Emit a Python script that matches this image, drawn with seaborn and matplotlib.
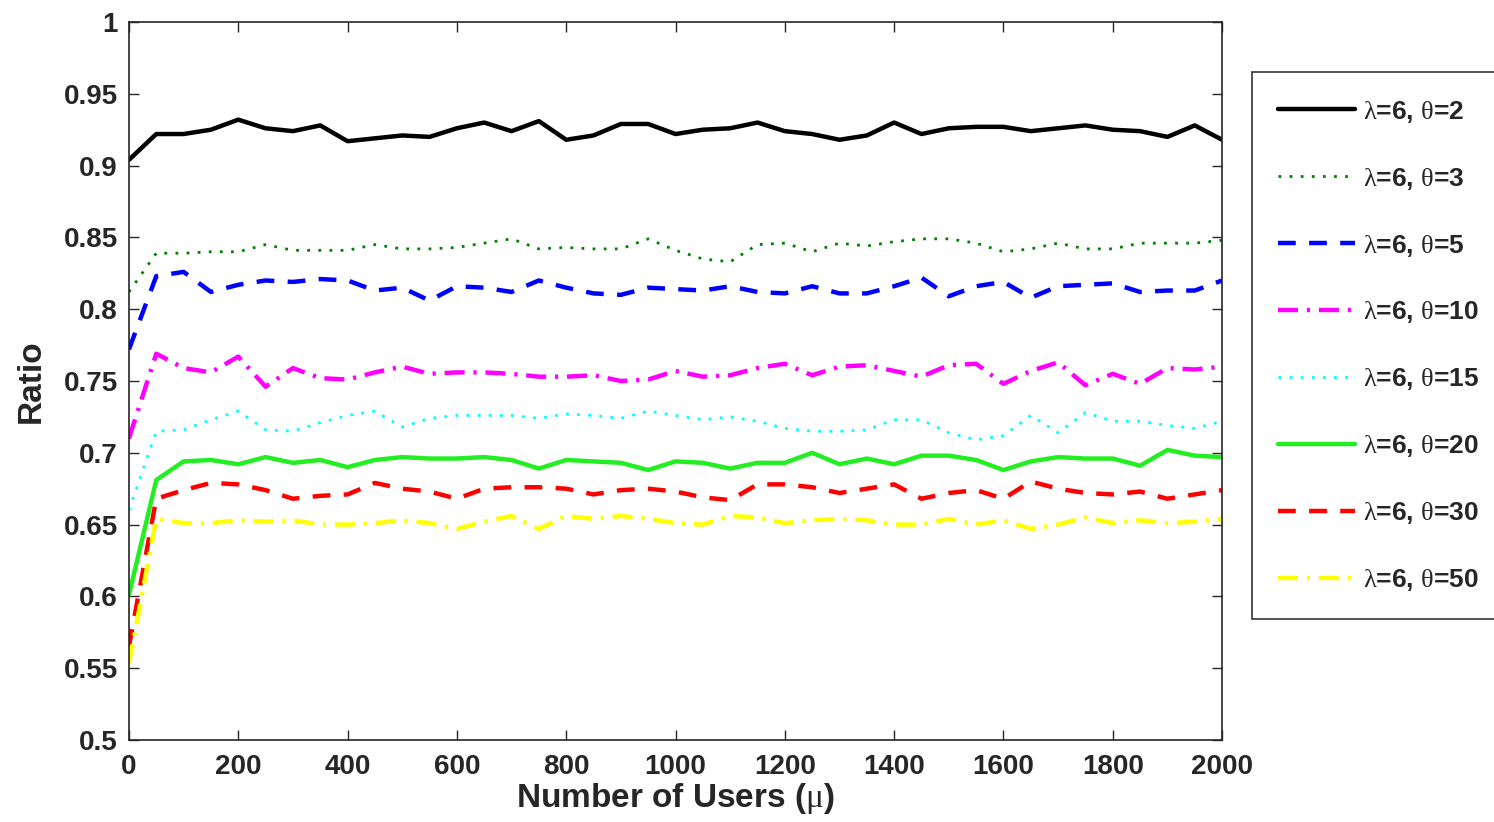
import numpy as np
import pandas as pd
import matplotlib
matplotlib.use("Agg")
import matplotlib.pyplot as plt
import seaborn as sns

# x values: number of users, every 50
users = list(range(0, 2001, 50))

ratio_t2 = [0.904, 0.922, 0.922, 0.925, 0.932, 0.926, 0.924, 0.928, 0.917, 0.919,
            0.921, 0.920, 0.926, 0.930, 0.924, 0.931, 0.918, 0.921, 0.929, 0.929,
            0.922, 0.925, 0.926, 0.930, 0.924, 0.922, 0.918, 0.921, 0.930, 0.922,
            0.926, 0.927, 0.927, 0.924, 0.926, 0.928, 0.925, 0.924, 0.920, 0.928, 0.918]
ratio_t3 = [0.812, 0.839, 0.839, 0.840, 0.840, 0.845, 0.841, 0.841, 0.841, 0.845,
            0.842, 0.842, 0.843, 0.846, 0.849, 0.842, 0.843, 0.842, 0.842, 0.849,
            0.841, 0.835, 0.833, 0.845, 0.846, 0.840, 0.846, 0.844, 0.847, 0.849,
            0.849, 0.846, 0.840, 0.842, 0.846, 0.842, 0.842, 0.846, 0.846, 0.846, 0.848]
ratio_t5 = [0.772, 0.823, 0.826, 0.812, 0.817, 0.820, 0.819, 0.821, 0.820, 0.813,
            0.815, 0.806, 0.816, 0.815, 0.812, 0.820, 0.815, 0.811, 0.810, 0.815,
            0.814, 0.813, 0.816, 0.812, 0.811, 0.816, 0.811, 0.811, 0.816, 0.822,
            0.809, 0.816, 0.819, 0.808, 0.816, 0.817, 0.818, 0.812, 0.813, 0.813, 0.820]
ratio_t10 = [0.710, 0.769, 0.759, 0.756, 0.767, 0.746, 0.759, 0.752, 0.751, 0.756,
             0.760, 0.755, 0.756, 0.756, 0.755, 0.753, 0.753, 0.754, 0.750, 0.751,
             0.757, 0.753, 0.754, 0.759, 0.762, 0.754, 0.760, 0.761, 0.757, 0.753,
             0.761, 0.762, 0.748, 0.757, 0.763, 0.747, 0.755, 0.748, 0.759, 0.758, 0.760]
ratio_t15 = [0.660, 0.715, 0.716, 0.723, 0.729, 0.716, 0.715, 0.721, 0.726, 0.729,
             0.718, 0.724, 0.726, 0.726, 0.726, 0.724, 0.727, 0.726, 0.724, 0.729,
             0.726, 0.723, 0.725, 0.722, 0.717, 0.715, 0.715, 0.716, 0.723, 0.723,
             0.714, 0.709, 0.712, 0.726, 0.714, 0.728, 0.722, 0.722, 0.719, 0.717, 0.722]
ratio_t20 = [0.601, 0.681, 0.694, 0.695, 0.692, 0.697, 0.693, 0.695, 0.690, 0.695,
             0.697, 0.696, 0.696, 0.697, 0.695, 0.689, 0.695, 0.694, 0.693, 0.688,
             0.694, 0.693, 0.689, 0.693, 0.693, 0.700, 0.692, 0.696, 0.692, 0.698,
             0.698, 0.695, 0.688, 0.694, 0.697, 0.696, 0.696, 0.691, 0.702, 0.698, 0.697]
ratio_t30 = [0.565, 0.668, 0.674, 0.679, 0.678, 0.674, 0.668, 0.670, 0.671, 0.679,
             0.675, 0.673, 0.668, 0.675, 0.676, 0.676, 0.675, 0.671, 0.674, 0.675,
             0.673, 0.669, 0.667, 0.678, 0.678, 0.676, 0.672, 0.675, 0.678, 0.668,
             0.672, 0.674, 0.668, 0.680, 0.675, 0.672, 0.671, 0.673, 0.668, 0.671, 0.674]
ratio_t50 = [0.553, 0.654, 0.651, 0.651, 0.653, 0.652, 0.653, 0.650, 0.650, 0.651,
             0.653, 0.651, 0.647, 0.652, 0.656, 0.647, 0.656, 0.654, 0.656, 0.654,
             0.651, 0.650, 0.656, 0.655, 0.651, 0.653, 0.654, 0.653, 0.650, 0.650,
             0.654, 0.650, 0.653, 0.647, 0.650, 0.655, 0.651, 0.653, 0.651, 0.652, 0.654]

thetas = [2, 3, 5, 10, 15, 20, 30, 50]
labels = [r"$\lambda$=6, $\theta$=%d" % t for t in thetas]
series = [ratio_t2, ratio_t3, ratio_t5, ratio_t10, ratio_t15, ratio_t20, ratio_t30, ratio_t50]

colors = ["#000000", "#008000", "#0000ff", "#ff00ff", "#00ffff", "#22ee22", "#ff0000", "#ffff00"]
styles = ["-", (0, (1, 3)), (0, (4, 3)), (0, (4.5, 2, 0.7, 2)),
          (0, (1, 3)), "-", (0, (4, 3)), (0, (4.5, 2, 0.7, 2))]
widths = [3.2, 2, 3.2, 3.2, 2, 3.2, 3.2, 3.2]

sns.set_style("ticks")
plt.rcParams['font.family'] = ['Liberation Sans', 'DejaVu Sans']
plt.rcParams['font.weight'] = 'bold'
# greek letters upright, thin and serif, like the symbol font in the original
plt.rcParams['mathtext.fontset'] = 'custom'
plt.rcParams['mathtext.it'] = 'Liberation Serif:weight=normal'
plt.rcParams['mathtext.rm'] = 'Liberation Serif:weight=normal'

fig = plt.figure(figsize=(14.94, 8.22), dpi=100)
ax = fig.add_axes([0.0863, 0.0998, 0.7317, 0.8734])

for vals, lab, c, ls, lw in zip(series, labels, colors, styles, widths):
    sns.lineplot(x=users, y=vals, ax=ax, color=c, linestyle=ls, linewidth=lw, label=lab)

ax.set_xlim(0, 2000)
ax.set_ylim(0.5, 1.0)
ax.set_xticks(range(0, 2001, 200))
ax.set_yticks(np.arange(0.5, 1.001, 0.05))
ax.set_yticklabels(["0.5", "0.55", "0.6", "0.65", "0.7", "0.75", "0.8", "0.85", "0.9", "0.95", "1"])
ax.tick_params(direction="in", top=True, right=True, labelsize=20, length=7, width=1)
ax.tick_params(axis="x", pad=10)
ax.tick_params(axis="y", pad=8)
for lab in ax.get_xticklabels() + ax.get_yticklabels():
    lab.set_fontweight("bold")
for sp in ax.spines.values():
    sp.set_linewidth(1.2)

ax.set_xlabel(r"Number of Users ($\mu$)", fontsize=24, fontweight="bold", labelpad=1)
ax.set_ylabel("Ratio", fontsize=24, fontweight="bold", labelpad=12)

ax.legend(loc="upper left", bbox_to_anchor=(0.838, 0.912), bbox_transform=fig.transFigure,
          frameon=True, fancybox=False, edgecolor="black", borderaxespad=0,
          handlelength=2.9, handletextpad=0.3, labelspacing=1.55, borderpad=1.0,
          prop={'weight': 'bold', 'size': 19})
ax.get_legend().get_frame().set_linewidth(1.2)

fig.savefig("out.png", dpi=100)
